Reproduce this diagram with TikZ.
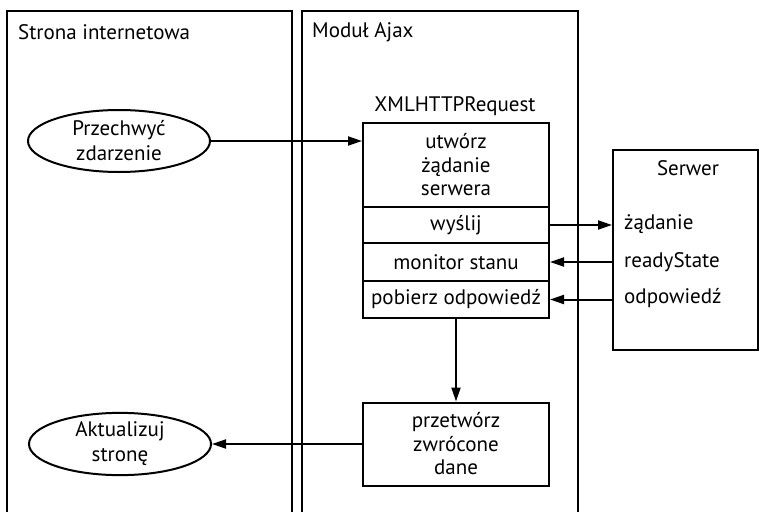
\documentclass[tikz,border=0pt]{standalone}
\usepackage{fontspec}
\setmainfont{PT Sans}
\usetikzlibrary{arrows.meta,shapes.geometric}
\tikzset{
  lw/.style={line width=2pt},
  panel/.style={lw},
  cell/.style={draw,lw,rectangle,minimum width=186pt,inner sep=0pt,align=center},
  oval/.style={draw,lw,ellipse,minimum width=182pt,minimum height=62pt,inner sep=0pt,align=center},
  lbl/.style={inner sep=0pt,anchor=west},
  conn/.style={lw,-{Triangle[length=14pt,width=9pt]}}
}
\begin{document}
\begin{tikzpicture}[x=1pt,y=-1pt,font=\fontsize{21}{23.5}\selectfont]
\useasboundingbox (0,0) rectangle (759,511);
\clip (0,0) rectangle (759,511);
% panels
\draw[panel] (7,520) -- (7,11) -- (292,11) -- (292,520);
\draw[panel] (302,520) -- (302,11) -- (578,11) -- (578,520);
\node[lbl] (ptitle1) at (18,32) {Strona internetowa};
\node[lbl] (ptitle2) at (312,32) {Moduł Ajax};
% ellipses
\node[oval,font=\fontsize{21}{25}\selectfont] (e1) at (119,141) {Przechwyć\\zdarzenie};
\node[oval,font=\fontsize{21}{25}\selectfont] (e2) at (120,444) {Aktualizuj\\stronę};
% XMLHTTPRequest
\node (xt) at (455,106) {XMLHTTPRequest};
\node[cell,minimum height=84pt] (c1) at (456,165) {utwórz\\żądanie\\serwera};
\node[cell,minimum height=36pt] (c2) at (456,225) {wyślij};
\node[cell,minimum height=38pt] (c3) at (456,262) {monitor stanu};
\node[cell,minimum height=37pt] (c4) at (456,299.5) {pobierz odpowiedź};
\node[cell,minimum height=83pt] (c5) at (456,444) {przetwórz\\zwrócone\\dane};
% server
\node[draw,lw,minimum width=145pt,minimum height=200pt,inner sep=0pt] (srv) at (685.5,250) {};
\node (st) at (688,168) {Serwer};
\node[lbl] (l1) at (624,224) {żądanie};
\node[lbl] (l2) at (624,262) {readyState};
\node[lbl] (l3) at (624,298.5) {odpowiedź};
% connectors
\draw[conn] (e1.east) -- (e1.east -| c1.west);
\draw[conn] (c2.east) -- (c2.east -| srv.west);
\draw[conn] (c3.east -| srv.west) -- (c3.east);
\draw[conn] (c4.east -| srv.west) -- (c4.east);
\draw[conn] (c4.south) -- (c5.north);
\draw[conn] (c5.west) -- (e2.east);
\end{tikzpicture}
\end{document}
